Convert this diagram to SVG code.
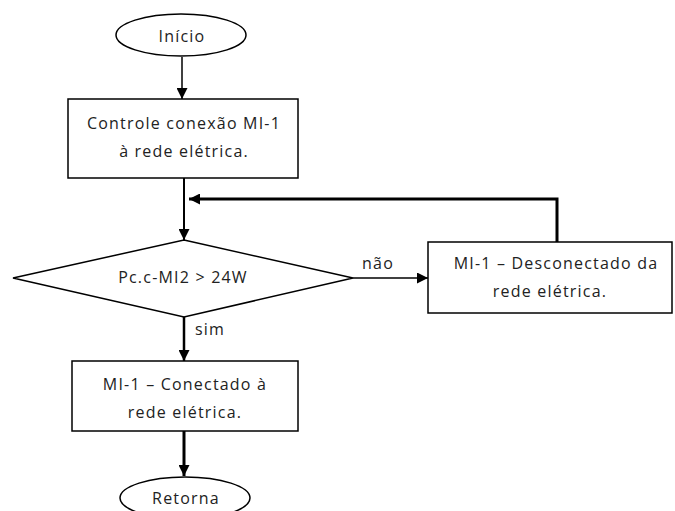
<svg xmlns="http://www.w3.org/2000/svg" width="675" height="511" viewBox="0 0 675 511">
<style>
.s{fill:#fff;stroke:#000;stroke-width:1.5}
.t{font-family:"Open Sans","Liberation Sans",sans-serif;font-size:16px;letter-spacing:1.2px;fill:#222;text-anchor:middle}
.c{fill:none;stroke:#000}
</style>
<defs>
<marker id="a" viewBox="0 0 10 10" refX="10" refY="5" markerWidth="11" markerHeight="11" markerUnits="userSpaceOnUse" orient="auto"><path d="M0,0L10,5L0,10z" fill="#000"/></marker>
</defs>
<rect width="675" height="511" fill="#fff"/>
<g id="connectors">
<path class="c" stroke-width="1.5" d="M182,57V99" marker-end="url(#a)"/>
<path class="c" stroke-width="2" d="M184,178V240" marker-end="url(#a)"/>
<path class="c" stroke-width="3" d="M557,242V199H189" marker-end="url(#a)"/>
<path class="c" stroke-width="1.5" d="M353,278H428" marker-end="url(#a)"/>
<path class="c" stroke-width="2.5" d="M184,317V361" marker-end="url(#a)"/>
<path class="c" stroke-width="3" d="M184,431V476" marker-end="url(#a)"/>
<text class="t" x="378" y="269">não</text>
<text class="t" x="210" y="335">sim</text>
</g>
<g id="inicio">
<ellipse class="s" cx="181" cy="35" rx="65" ry="21"/>
<text class="t" x="182" y="42">Início</text>
</g>
<g id="controle">
<rect class="s" x="68" y="99" width="230" height="79"/>
<text class="t" x="184" y="129">Controle conexão MI-1</text>
<text class="t" x="184" y="157">à rede elétrica.</text>
</g>
<g id="decisao">
<path class="s" d="M184,240L353,278L184,317L13,278z"/>
<text class="t" x="183" y="283">Pc.c-MI2 &gt; 24W</text>
</g>
<g id="desconectado">
<rect class="s" x="428" y="242" width="244" height="71"/>
<text class="t" x="556" y="269">MI-1 – Desconectado da</text>
<text class="t" x="550" y="297">rede elétrica.</text>
</g>
<g id="conectado">
<rect class="s" x="72" y="361" width="226" height="70"/>
<text class="t" x="185" y="390">MI-1 – Conectado à</text>
<text class="t" x="185" y="418">rede elétrica.</text>
</g>
<g id="retorna">
<ellipse class="s" cx="185" cy="498" rx="65" ry="21"/>
<text class="t" x="186" y="504">Retorna</text>
</g>
</svg>
